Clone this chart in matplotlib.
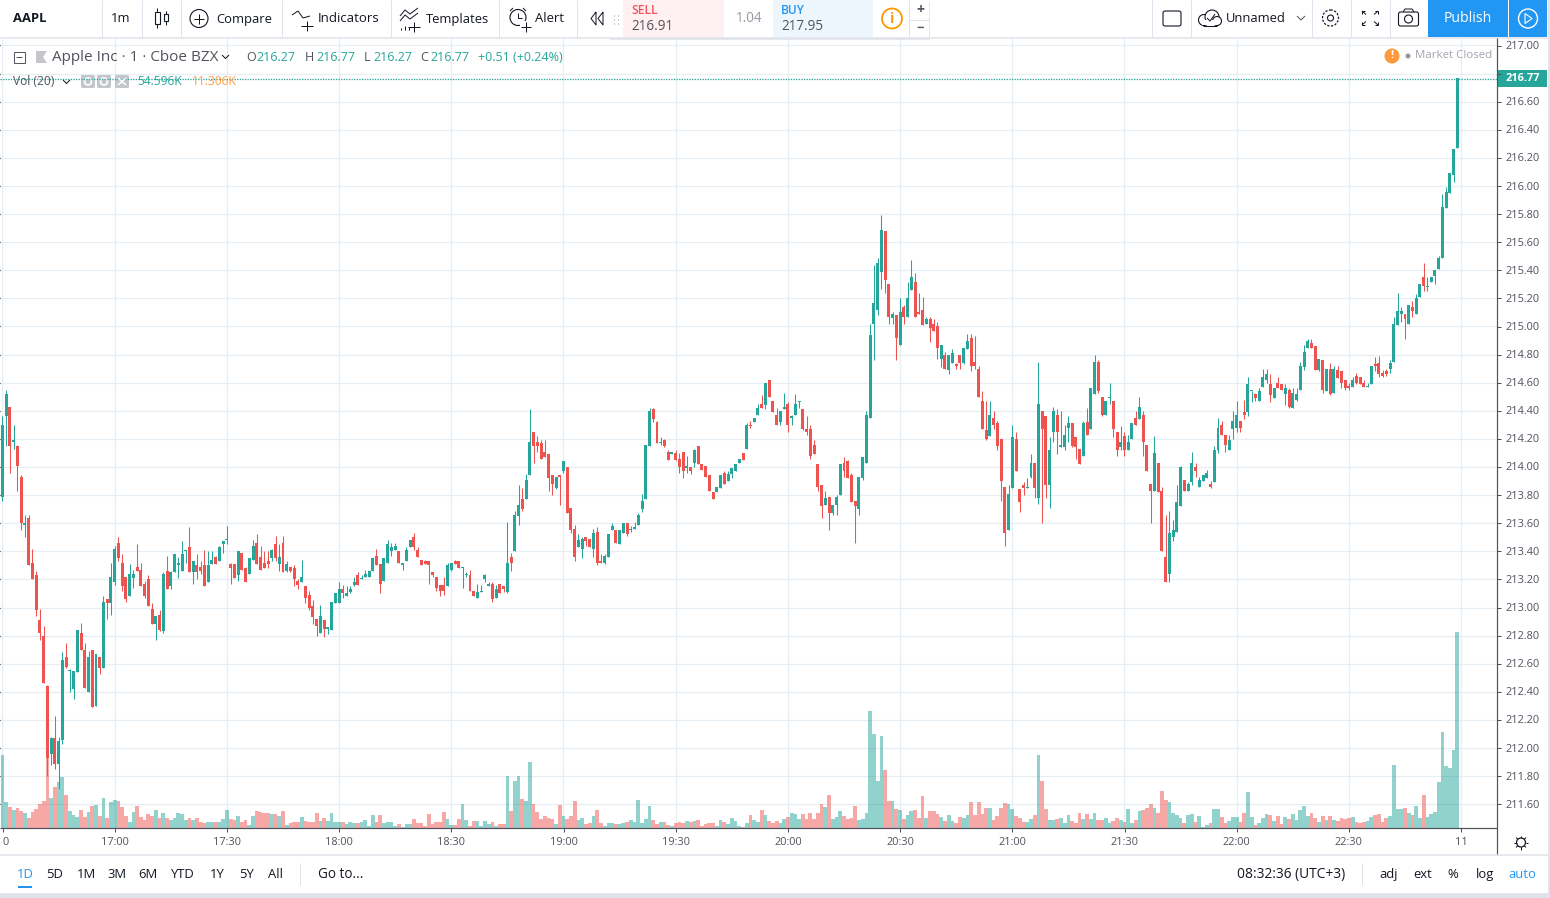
import numpy as np
import matplotlib
matplotlib.use("Agg")
import matplotlib.pyplot as plt
from matplotlib.patches import Rectangle, Circle, FancyBboxPatch

plt.rcParams["font.family"] = ["Open Sans", "DejaVu Sans"]

# =========================
# DATA
# =========================
opens = [
    213.79,214.36,214.43,214.18,214.15,213.93,213.59,213.64,213.32,213.23,
    212.91,212.80,212.44,211.96,212.07,211.89,212.06,212.65,212.55,212.42,
    212.54,212.82,212.70,212.40,212.70,212.30,212.65,212.57,213.06,213.03,
    213.18,213.46,213.32,213.22,213.08,213.21,213.29,213.27,213.17,213.20,
    212.99,212.88,212.95,212.83,213.26,213.15,213.25,213.30,213.26,213.40,
    213.43,213.25,213.30,213.29,213.30,213.18,213.31,213.36,213.33,213.45,
    213.48,213.31,213.31,213.23,213.39,213.28,213.24,213.34,213.46,213.36,
    213.32,213.33,213.35,213.45,213.31,213.46,213.26,213.29,213.28,213.19,
    213.18,213.15,213.09,213.01,212.92,212.82,212.91,212.85,212.84,213.03,
    213.03,213.13,213.08,213.11,213.16,213.23,213.20,213.22,213.22,213.26,
    213.37,213.31,213.19,213.32,213.40,213.41,213.40,213.30,213.33,213.43,
    213.50,213.41,213.34,213.33,213.33,213.25,213.22,213.16,213.16,213.15,
    213.27,213.33,213.33,213.28,213.23,213.23,213.12,213.07,213.11,213.20,
    213.15,213.17,213.07,213.17,213.15,213.11,213.36,213.40,213.65,213.77,
    213.77,213.94,214.25,214.18,214.17,214.11,214.09,213.94,213.85,213.94,
    213.97,214.00,213.71,213.56,213.43,213.42,213.50,213.49,213.42,213.54,
    213.33,213.32,213.36,213.55,213.55,213.45,213.53,213.60,213.55,213.56,
    213.59,213.70,213.77,214.15,214.41,214.32,214.17,214.19,214.11,214.09,
    214.10,214.06,214.11,213.99,214.00,214.03,214.15,214.02,214.01,213.94,
    213.82,213.82,213.85,213.96,213.90,213.95,213.97,214.03,214.10,214.13,
    214.30,214.32,214.37,214.45,214.44,214.62,214.47,214.37,214.32,214.41,
    214.45,214.35,214.37,214.46,214.41,214.27,214.27,214.16,214.02,213.87,
    213.73,213.79,213.67,213.73,213.80,214.03,214.04,213.94,213.76,213.70,
    213.92,214.03,214.35,215.02,215.12,215.39,215.68,215.30,215.06,215.08,
    214.87,215.14,215.07,215.26,215.32,215.10,215.12,215.02,215.05,215.02,
    215.00,214.77,214.80,214.69,214.74,214.73,214.80,214.74,214.84,214.92,
    214.75,214.70,214.47,214.26,214.22,214.35,214.31,214.20,213.86,213.55,
    213.85,214.20,213.84,213.87,213.85,213.93,214.03,213.78,214.40,214.36,
    213.87,214.25,214.37,214.14,214.14,214.28,214.31,214.21,214.13,214.08,
    214.32,214.27,214.52,214.75,214.50,214.37,214.49,214.47,214.25,214.14,
    214.22,214.12,214.20,214.35,214.34,214.37,214.16,213.88,213.83,214.03,
    213.83,213.36,213.24,213.50,213.54,213.72,213.91,213.83,213.89,214.00,
    213.86,213.90,213.92,213.88,213.89,214.12,214.30,214.23,214.12,214.27,
    214.28,214.33,214.39,214.39,214.54,214.52,214.47,214.57,214.62,214.59,
    214.49,214.60,214.59,214.52,214.55,214.42,214.48,214.55,214.71,214.85,
    214.88,214.86,214.69,214.76,214.54,214.70,214.53,214.69,214.68,214.62,
    214.58,214.57,214.65,214.64,214.60,214.57,214.59,214.73,214.74,214.67,
    214.68,214.70,214.75,215.01,215.09,215.09,215.02,215.14,215.09,215.21,
    215.35,215.28,215.32,215.36,215.41,215.49,215.84,215.95,216.08,216.27,
]
closes = [
    214.30,214.52,214.15,214.19,214.01,213.60,213.59,213.30,213.20,212.98,
    212.82,212.46,211.93,212.07,211.89,212.05,212.63,212.58,212.55,212.55,
    212.84,212.70,212.43,212.65,212.29,212.67,212.57,213.04,213.03,213.22,
    213.42,213.35,213.15,213.06,213.24,213.24,213.26,213.15,213.08,213.01,
    212.88,212.94,212.84,213.24,213.13,213.25,213.38,213.32,213.38,213.41,
    213.25,213.33,213.25,213.26,213.15,213.30,213.34,213.31,213.43,213.47,
    213.48,213.28,213.21,213.40,213.27,213.18,213.35,213.44,213.31,213.27,
    213.28,213.31,213.41,213.35,213.36,213.25,213.31,213.26,213.20,213.16,
    213.22,213.07,213.00,212.93,212.87,212.94,212.85,212.86,213.04,213.10,
    213.13,213.10,213.10,213.13,213.18,213.16,213.21,213.24,213.26,213.35,
    213.30,213.17,213.35,213.45,213.43,213.44,213.32,213.32,213.41,213.48,
    213.43,213.36,213.30,213.31,213.30,213.23,213.14,213.12,213.12,213.30,
    213.32,213.31,213.28,213.29,213.24,213.12,213.08,213.11,213.12,213.23,
    213.17,213.06,213.13,213.10,213.13,213.32,213.32,213.66,213.73,213.70,
    213.91,214.18,214.15,214.15,214.06,214.07,213.92,213.88,213.93,213.93,
    214.04,213.67,213.55,213.36,213.48,213.49,213.47,213.43,213.53,213.32,
    213.32,213.37,213.52,213.58,213.46,213.55,213.60,213.52,213.56,213.57,
    213.66,213.76,214.16,214.40,214.34,214.17,214.18,214.15,214.05,214.11,
    214.05,214.00,213.97,214.01,213.97,214.12,214.02,213.98,213.93,213.83,
    213.77,213.86,213.94,213.88,213.95,213.99,214.02,214.06,214.05,214.30,
    214.29,214.35,214.42,214.42,214.60,214.50,214.39,214.30,214.40,214.43,
    214.30,214.36,214.45,214.46,214.27,214.25,214.08,214.09,213.86,213.72,
    213.78,213.67,213.73,213.79,214.02,213.97,213.92,213.75,213.72,213.93,
    214.07,214.37,214.94,215.17,215.45,215.69,215.33,215.07,215.09,214.92,
    215.10,215.07,215.20,215.35,215.07,215.09,215.01,215.05,214.99,214.97,
    214.85,214.87,214.70,214.80,214.81,214.72,214.74,214.85,214.90,214.72,
    214.72,214.50,214.27,214.20,214.37,214.30,214.15,213.90,213.53,213.81,
    214.21,213.97,213.75,213.85,213.86,214.03,213.85,214.45,214.27,213.87,
    214.12,214.40,214.25,214.16,214.23,214.31,214.15,214.14,214.02,214.31,
    214.23,214.56,214.75,214.54,214.37,214.47,214.50,214.27,214.12,214.18,
    214.12,214.18,214.31,214.30,214.43,214.18,213.97,213.83,214.10,213.82,
    213.40,213.18,213.53,213.55,213.75,214.00,213.83,213.88,214.03,213.97,
    213.91,213.94,213.96,213.86,214.12,214.28,214.23,214.16,214.19,214.33,
    214.37,214.28,214.37,214.59,214.54,214.49,214.54,214.64,214.66,214.51,
    214.56,214.56,214.55,214.56,214.43,214.53,214.52,214.72,214.82,214.90,
    214.85,214.69,214.77,214.55,214.70,214.52,214.70,214.63,214.60,214.56,
    214.56,214.62,214.60,214.59,214.57,214.58,214.72,214.72,214.66,214.65,
    214.66,214.74,215.02,215.11,215.11,215.05,215.15,215.11,215.20,215.30,
    215.29,215.29,215.35,215.40,215.49,215.85,215.96,216.09,216.26,216.77,
]
highs = [
    214.36,214.55,214.43,214.30,214.16,213.94,213.66,213.66,213.42,213.26,
    212.99,212.87,212.45,212.08,212.23,212.08,212.68,212.75,212.56,212.55,
    212.84,212.89,212.75,212.69,212.70,212.67,212.65,213.08,213.06,213.32,
    213.44,213.50,213.38,213.22,213.31,213.27,213.45,213.32,213.19,213.23,
    213.03,212.94,212.98,213.25,213.37,213.26,213.38,213.36,213.47,213.41,
    213.57,213.33,213.38,213.33,213.41,213.40,213.40,213.37,213.44,213.47,
    213.58,213.32,213.31,213.40,213.39,213.29,213.35,213.48,213.52,213.44,
    213.40,213.40,213.42,213.51,213.45,213.51,213.33,213.29,213.30,213.20,
    213.34,213.15,213.12,213.05,212.92,213.02,212.91,212.86,213.04,213.10,
    213.18,213.16,213.15,213.15,213.22,213.25,213.23,213.27,213.26,213.36,
    213.42,213.31,213.35,213.48,213.46,213.46,213.40,213.32,213.43,213.48,
    213.53,213.43,213.34,213.34,213.33,213.25,213.22,213.16,213.22,213.32,
    213.32,213.34,213.33,213.29,213.25,213.27,213.12,213.17,213.16,213.24,
    213.18,213.18,213.16,213.17,213.15,213.61,213.39,213.69,213.87,213.85,
    213.95,214.41,214.25,214.22,214.19,214.19,214.09,213.94,213.93,213.94,
    214.04,214.00,213.71,213.59,213.52,213.50,213.50,213.49,213.56,213.57,
    213.38,213.38,213.52,213.60,213.55,213.55,213.60,213.60,213.58,213.61,
    213.67,213.81,214.16,214.42,214.42,214.33,214.21,214.20,214.12,214.11,
    214.12,214.10,214.11,214.08,214.00,214.13,214.15,214.02,214.01,213.94,
    213.82,213.86,213.94,213.97,213.97,213.99,214.02,214.06,214.10,214.31,
    214.33,214.35,214.45,214.51,214.60,214.62,214.47,214.42,214.40,214.53,
    214.46,214.37,214.52,214.47,214.41,214.36,214.30,214.19,214.02,213.87,
    213.83,213.79,213.73,213.80,214.02,214.07,214.05,213.96,213.76,213.93,
    214.07,214.40,215.02,215.44,215.49,215.79,215.68,215.30,215.10,215.08,
    215.20,215.15,215.32,215.47,215.38,215.24,215.21,215.07,215.07,215.05,
    215.03,214.87,214.82,214.80,214.84,214.74,214.80,214.85,214.95,214.95,
    214.93,214.72,214.54,214.47,214.47,214.40,214.33,214.20,213.86,213.87,
    214.30,214.25,213.84,213.89,213.92,214.09,214.03,214.75,214.40,214.36,
    214.21,214.43,214.41,214.40,214.30,214.36,214.31,214.21,214.13,214.33,
    214.42,214.56,214.80,214.76,214.50,214.47,214.60,214.47,214.25,214.29,
    214.25,214.23,214.31,214.40,214.50,214.40,214.16,213.88,214.22,214.03,
    213.86,213.66,213.69,213.62,213.87,214.01,213.91,213.89,214.11,214.03,
    213.93,213.94,213.98,213.90,214.15,214.35,214.33,214.23,214.23,214.40,
    214.47,214.33,214.48,214.64,214.54,214.53,214.56,214.70,214.70,214.66,
    214.56,214.64,214.59,214.59,214.56,214.56,214.56,214.75,214.87,214.91,
    214.91,214.86,214.77,214.76,214.70,214.74,214.72,214.72,214.68,214.62,
    214.60,214.64,214.67,214.64,214.62,214.60,214.72,214.78,214.79,214.69,
    214.70,214.76,215.07,215.24,215.14,215.09,215.15,215.18,215.23,215.30,
    215.45,215.35,215.35,215.40,215.50,215.94,215.99,216.09,216.26,216.77,
]
lows = [
    213.76,214.15,213.96,214.13,213.83,213.55,213.50,213.30,213.20,212.94,
    212.77,212.46,211.80,211.88,211.85,211.71,212.03,212.57,212.40,212.35,
    212.54,212.70,212.43,212.40,212.29,212.30,212.53,212.57,212.92,212.95,
    213.16,213.33,213.12,213.04,213.08,213.14,213.26,213.15,213.07,213.01,
    212.88,212.77,212.83,212.82,213.13,213.13,213.25,213.21,213.26,213.32,
    213.25,213.17,213.20,213.24,213.15,213.18,213.31,213.31,213.33,213.39,
    213.45,213.17,213.21,213.19,213.27,213.18,213.24,213.34,213.31,213.27,
    213.28,213.28,213.33,213.33,213.26,213.25,213.25,213.25,213.15,213.13,
    213.18,213.03,212.98,212.88,212.80,212.82,212.79,212.81,212.84,213.03,
    213.03,213.07,213.08,213.10,213.15,213.16,213.20,213.22,213.22,213.26,
    213.30,213.10,213.19,213.32,213.37,213.41,213.32,213.27,213.33,213.43,
    213.41,213.36,213.30,213.31,213.17,213.22,213.12,213.08,213.09,213.15,
    213.26,213.31,213.28,213.14,213.22,213.12,213.08,213.07,213.11,213.18,
    213.15,213.04,213.07,213.10,213.11,213.10,213.26,213.40,213.59,213.69,
    213.77,213.94,214.03,214.11,214.06,214.07,213.83,213.80,213.84,213.73,
    213.96,213.67,213.53,213.33,213.43,213.35,213.44,213.43,213.36,213.30,
    213.32,213.31,213.36,213.55,213.46,213.45,213.53,213.51,213.54,213.56,
    213.59,213.68,213.77,214.15,214.32,214.17,214.16,214.14,214.05,214.09,
    214.05,213.96,213.92,213.96,213.95,214.00,214.02,213.98,213.93,213.83,
    213.77,213.82,213.85,213.88,213.90,213.92,213.97,214.03,214.05,214.13,
    214.28,214.32,214.37,214.42,214.41,214.50,214.39,214.30,214.30,214.41,
    214.25,214.30,214.37,214.42,214.26,214.23,214.06,214.09,213.83,213.64,
    213.73,213.55,213.66,213.66,213.80,213.93,213.92,213.75,213.46,213.66,
    213.91,214.03,214.35,214.76,215.08,215.27,215.24,215.02,215.02,214.76,
    214.87,215.02,215.07,215.26,215.07,215.09,215.01,215.02,214.89,214.97,
    214.77,214.71,214.70,214.66,214.74,214.70,214.70,214.73,214.84,214.68,
    214.70,214.50,214.27,214.19,214.22,214.27,214.12,213.76,213.44,213.55,
    213.85,213.97,213.68,213.80,213.85,213.92,213.78,213.74,213.60,213.78,
    213.71,214.18,214.09,214.14,214.12,214.18,214.14,214.06,214.02,214.08,
    214.23,214.27,214.52,214.53,214.36,214.37,214.45,214.21,214.08,214.12,
    214.08,214.12,214.20,214.30,214.34,214.08,213.97,213.60,213.83,213.82,
    213.40,213.18,213.18,213.47,213.54,213.72,213.83,213.83,213.87,213.93,
    213.86,213.90,213.92,213.85,213.89,214.10,214.23,214.11,214.12,214.20,
    214.25,214.25,214.34,214.36,214.46,214.47,214.47,214.57,214.60,214.46,
    214.49,214.56,214.55,214.44,214.42,214.42,214.47,214.55,214.69,214.85,
    214.85,214.69,214.68,214.53,214.54,214.51,214.53,214.63,214.56,214.55,
    214.55,214.57,214.59,214.59,214.57,214.57,214.59,214.68,214.64,214.64,
    214.65,214.67,214.75,215.01,215.03,214.91,215.02,215.07,215.09,215.21,
    215.25,215.25,215.32,215.30,215.41,215.49,215.84,215.95,216.03,216.27,
]
# volume in thousands
volumes = [
    20.4,7.3,5.9,5.1,5.7,4.8,4.3,2.9,4.5,5.4,
    6.8,7.6,19.6,8.4,11.5,12.9,14.3,9.3,4.8,3.7,
    3.2,5.1,3.2,4.5,6.2,6.5,3.4,8.4,2.9,7.3,
    7.9,7.6,5.9,3.4,1.8,4.5,6.2,3.2,2.3,4.0,
    3.4,5.1,2.9,4.3,2.9,2.3,2.9,4.3,4.0,2.3,
    2.9,2.3,2.9,1.8,1.5,1.8,1.8,1.8,1.8,2.6,
    5.1,2.6,2.3,3.4,1.7,2.2,0.7,3.3,4.7,4.4,
    4.3,4.1,3.9,3.9,3.3,4.7,0.8,1.4,1.7,1.7,
    3.1,1.9,1.7,1.7,4.2,1.9,2.8,1.9,4.2,1.7,
    1.7,1.7,1.1,1.7,1.4,1.4,1.7,2.2,0.6,3.6,
    1.7,3.6,1.4,1.7,1.7,0.6,1.1,0.3,1.1,1.1,
    2.5,1.4,1.4,0.6,3.9,1.1,1.7,1.7,4.5,2.5,
    0.8,0.8,2.5,6.7,2.2,0.6,1.9,1.9,0.6,1.9,
    1.1,1.7,0.6,1.1,1.1,14.5,4.7,13.1,14.5,8.1,
    7.5,18.4,6.7,4.5,2.5,3.3,2.8,2.5,1.1,6.4,
    3.3,2.5,3.3,7.5,2.2,2.8,1.1,1.4,3.3,5.0,
    1.4,0.6,1.4,1.4,1.1,1.1,1.4,1.7,2.2,1.7,
    7.8,1.4,2.5,6.1,2.2,1.1,1.7,1.7,0.8,0.6,
    1.4,1.7,1.4,1.9,1.7,1.9,2.2,0.6,1.1,1.4,
    1.4,0.6,2.2,1.7,1.1,2.8,1.9,0.6,0.3,1.4,
    3.6,2.2,1.7,5.0,3.6,1.9,1.4,1.9,1.4,2.5,
    3.1,4.2,3.9,2.5,3.9,2.5,4.2,2.5,4.2,6.7,
    5.8,9.2,2.5,3.1,4.7,3.3,2.5,2.8,6.1,2.2,
    2.5,4.2,32.6,26.2,13.1,25.6,16.2,7.5,7.5,5.3,
    5.0,2.5,3.6,4.7,5.0,2.8,8.9,2.8,4.7,4.7,
    3.9,3.1,1.9,3.6,1.9,1.4,3.1,2.8,3.6,7.2,
    3.6,7.2,3.9,5.6,5.6,2.2,3.3,5.6,7.0,6.7,
    5.3,3.3,2.8,1.7,1.7,2.5,3.6,20.3,13.1,5.3,
    2.2,2.2,2.5,2.8,1.4,3.6,1.9,1.4,4.2,2.5,
    3.9,2.5,4.2,2.2,2.2,2.8,1.4,1.9,2.8,2.2,
    1.7,5.3,1.4,2.2,4.7,5.0,5.6,6.7,5.6,4.2,
    10.3,7.8,7.2,4.2,3.6,2.8,1.4,3.6,3.9,1.7,
    3.3,0.3,0.8,1.4,5.3,5.3,3.1,1.4,1.9,3.1,
    3.1,1.7,4.2,10.0,3.1,0.8,1.4,2.8,3.9,3.6,
    1.9,3.3,1.1,3.1,2.5,3.9,2.2,5.0,6.1,3.3,
    4.2,2.8,1.7,3.3,2.2,3.3,2.2,1.9,2.8,2.5,
    2.8,3.1,1.7,1.4,1.7,1.9,3.1,3.6,3.9,1.7,
    2.8,3.3,17.5,5.3,5.3,5.6,4.2,3.6,6.1,2.8,
    9.2,3.1,3.9,4.5,12.8,26.7,17.3,16.7,21.7,54.6,
]
time_ticks = [0, 30, 60, 90, 120, 150, 180, 210, 240, 270, 300, 330, 360, 390]
time_labels = ["0", "17:00", "17:30", "18:00", "18:30", "19:00", "19:30",
               "20:00", "20:30", "21:00", "21:30", "22:00", "22:30", "11"]
price_ticks = [211.6 + 0.2 * k for k in range(28)]
last_price = 216.77

GREEN = "#26a69a"
RED = "#ef5350"
GRID = "#e6edf3"
TEXT = "#50535e"
DARK = "#131722"

# =========================
# FIGURE AND CHART PANE
# =========================
fig = plt.figure(figsize=(15.5, 8.98), dpi=100, facecolor="white")

# pane covers x 0-1497, y 38-828 in image pixels
ax = fig.add_axes([0, (898 - 828) / 898, 1497 / 1550, 790 / 898])
ax.set_xlim(-0.668, 399.6)
ax.set_ylim(211.431, 217.053)
for s in ax.spines.values():
    s.set_visible(False)
ax.tick_params(left=False, right=False, bottom=False, labelleft=False, labelbottom=False)
ax.set_xticks(time_ticks)
ax.set_yticks(price_ticks)
ax.grid(True, color=GRID, lw=0.9)
ax.set_axisbelow(True)

# grid axes at the back, then volume, then candles on top
vax = ax.twinx()
vax.set_ylim(0, 220)
vax.axis("off")
cax = ax.twinx()
cax.set_ylim(ax.get_ylim())
cax.axis("off")

idx = np.arange(len(opens))
o = np.array(opens)
c = np.array(closes)
h = np.array(highs)
l = np.array(lows)
v = np.array(volumes)
colors = [GREEN if ce >= op else RED for op, ce in zip(o, c)]

vax.bar(idx, v, width=1.0, color=colors, alpha=0.5, linewidth=0, zorder=1)

cax.vlines(idx, l, h, colors=colors, lw=0.75, zorder=3)
cax.bar(idx, np.maximum(np.abs(c - o), 0.008), bottom=np.minimum(o, c), width=0.8,
        color=colors, linewidth=0, zorder=4)
cax.set_xlim(ax.get_xlim())
vax.set_xlim(ax.get_xlim())

# =========================
# CHROME OVERLAY IN PIXELS
# =========================
ui = fig.add_axes([0, 0, 1, 1], zorder=10)
ui.set_xlim(0, 1550)
ui.set_ylim(898, 0)
ui.axis("off")
ui.patch.set_visible(False)


def txt(x, y, s, size=13, color=DARK, ha="left", weight="normal"):
    # Open Sans sits a little high with va=center
    ui.text(x, y + 1.5, s, fontsize=size * 0.72, color=color, ha=ha, va="center", fontweight=weight)


def line(xs, ys, color=DARK, lw=1.0, **kw):
    ui.plot(xs, ys, color=color, lw=lw * 0.72, solid_capstyle="butt", **kw)


def box(x0, y0, x1, y1, color, **kw):
    ui.add_patch(Rectangle((x0, y0), x1 - x0, y1 - y0, facecolor=color, linewidth=0, **kw))


SEP = "#e0e3eb"

# top toolbar
box(0, 0, 1550, 37, "white")
line([0, 1550], [37.5, 37.5], SEP, 1.5)
for sx in [101.5, 141.5, 180.5, 282, 390.5, 499, 576.5, 1151.5, 1191, 1312, 1351, 1390]:
    line([sx, sx], [0, 37], SEP)
txt(13, 17.5, "AAPL", 13, DARK, weight="bold")
txt(121, 17.5, "1m", 13, DARK, ha="center")
# candle icon
line([157, 157], [8, 28]); line([166, 166], [11, 25])
ui.add_patch(Rectangle((154.5, 12), 5, 12, facecolor="white", edgecolor=DARK, lw=0.8, zorder=3))
ui.add_patch(Rectangle((164, 14), 4, 7, facecolor="white", edgecolor=DARK, lw=0.8, zorder=3))
# compare
ui.add_patch(Circle((199, 18.5), 9, facecolor="none", edgecolor=DARK, lw=0.8))
line([194, 204], [18.5, 18.5]); line([199, 199], [13.5, 23.5])
txt(216, 17.5, "Compare")
# indicators
line([292, 298, 303, 310], [15, 11, 18, 16])
line([307, 307], [21, 31]); line([301, 313], [26, 26])
txt(318, 17.5, "Indicators", 13.2)
# templates
line([400, 405, 410, 418], [16, 10, 14, 8]); line([400, 405, 410, 418], [21, 15, 19, 13])
line([414, 414], [22, 32]); line([408, 420], [27, 27])
line([401, 401], [28, 30]); line([405, 405], [26, 30]); line([409, 409], [27, 30])
txt(426, 17.5, "Templates")
# alert
ui.add_patch(Circle((518, 17.5), 8, facecolor="none", edgecolor=DARK, lw=0.8))
line([510, 513], [11, 8]); line([523, 526], [8, 11]); line([518, 518, 522], [13, 18, 18])
box(520, 21, 530, 32, "white")
line([526, 526], [22, 32]); line([521, 531], [27, 27])
txt(535, 17.5, "Alert")
line([596, 591, 596, 596], [12, 18.5, 25, 12]); line([603, 598, 603, 603], [12, 18.5, 25, 12])

# trading panel
ui.add_patch(Rectangle((610, 2), 320, 38, facecolor="#d5d7dd", linewidth=0, alpha=0.6))
box(608, 0, 929, 38, "white")
box(623, 0, 724, 38, "#fff0f1")
box(773, 0, 873, 38, "#eef6fd")
for dy in [15, 19, 23]:
    for dx in [613.5, 617.5]:
        box(dx, dy, dx + 1.5, dy + 1.5, "#c8cad0")
txt(631, 9.5, "SELL", 12, "#f7525f", weight="semibold")
txt(631, 25, "216.91", 13.5, TEXT)
txt(749, 17.5, "1.04", 13.5, "#9598a1", ha="center")
txt(781, 9.5, "BUY", 12, "#2196f3", weight="semibold")
txt(781, 25, "217.95", 13.5, TEXT)
ui.add_patch(Circle((892, 18.5), 10, facecolor="white", edgecolor="#ff9800", lw=1.3))
txt(892, 17.5, "i", 14, "#ff9800", ha="center", weight="bold")
line([909, 909], [0, 38], SEP)
line([909, 929], [19.5, 19.5], SEP)
txt(920, 8.5, "+", 14, TEXT, ha="center", weight="bold")
txt(920, 27, "−", 13, TEXT, ha="center", weight="bold")

# right side of toolbar
ui.add_patch(FancyBboxPatch((1163, 11), 18, 15, boxstyle="round,pad=0,rounding_size=2",
                            facecolor="none", edgecolor=DARK, lw=0.8))
ui.add_patch(Circle((1204, 20), 5.5, facecolor="white", edgecolor=DARK, lw=0.8))
ui.add_patch(Circle((1212, 17), 7, facecolor="white", edgecolor=DARK, lw=0.8))
ui.add_patch(Circle((1217, 21), 4.5, facecolor="white", edgecolor=DARK, lw=0.8))
box(1202, 20, 1217, 25, "white", zorder=3)
line([1203, 1217], [25.5, 25.5], DARK, zorder=3)
line([1207, 1210, 1215], [18, 21, 14], DARK, zorder=3)
txt(1226, 17.5, "Unnamed")
line([1297, 1301, 1305], [16, 20, 16], TEXT)
ui.add_patch(Circle((1330.5, 18), 3, facecolor="none", edgecolor=DARK, lw=0.8))
ui.add_patch(Circle((1330.5, 18), 8, facecolor="none", edgecolor=DARK, lw=0.9, linestyle=(0, (1.8, 1.2))))
for sx, sy in [(1, 1), (-1, 1), (1, -1), (-1, -1)]:
    cx, cy = 1370 + sx * 8, 18 + sy * 7
    line([cx, cx - sx * 4], [cy, cy - sy * 3.5])
    line([cx, cx], [cy, cy - sy * 3]); line([cx, cx - sx * 3], [cy, cy])
ui.add_patch(FancyBboxPatch((1398.5, 12), 20, 14, boxstyle="round,pad=0,rounding_size=2",
                            facecolor="none", edgecolor=DARK, lw=0.8))
ui.add_patch(Circle((1408.5, 19), 4, facecolor="none", edgecolor=DARK, lw=0.8))
line([1403, 1405, 1412, 1414], [12, 9, 9, 12])
box(1428, 0, 1508, 37, "#2196f3")
box(1509, 0, 1547, 37, "#2196f3")
txt(1468, 17.5, "Publish", 14, "white", ha="center", weight="medium")
ui.add_patch(Circle((1528, 18.5), 9.5, facecolor="none", edgecolor="white", lw=1.0))
ui.fill([1525, 1525, 1532], [13.5, 23.5, 18.5], facecolor="none", edgecolor="white", lw=0.8)
box(1548, 0, 1550, 898, SEP)

# legend rows
ui.add_patch(Rectangle((13.5, 51.5), 11, 11, facecolor="white", edgecolor=TEXT, lw=0.7))
line([16, 22], [57, 57], TEXT)
ui.fill([36, 47, 43, 47, 36], [51, 51, 57, 63, 63], color="#c4c6cc", lw=0)
txt(52, 56, "Apple Inc · 1 · Cboe BZX", 15.2, TEXT)
line([222, 225.5, 229], [55, 58.5, 55], DARK)
for lx, letter, value, off in [(246, "O", "216.27", 10), (305, "H", "216.77", 11),
                               (364, "L", "216.27", 9), (420, "C", "216.77", 10)]:
    txt(lx, 56, letter, 12.5, TEXT)
    txt(lx + off, 56, value, 12.5, GREEN)
txt(478, 56, "+0.51 (+0.24%)", 12.5, GREEN)

line([0, 1497], [78.5, 78.5], GREEN, 1.3, linestyle=(0, (1, 1)))
txt(13, 80, "Vol (20)", 12, TEXT)
line([63, 66.5, 70], [80, 83.5, 80], DARK)
for bx, mark in [(81, "o"), (97, "g"), (115, "x")]:
    ui.add_patch(FancyBboxPatch((bx, 75), 14, 13, boxstyle="round,pad=0,rounding_size=1.5",
                                facecolor="#c4c6cc", linewidth=0))
    if mark == "x":
        line([bx + 3, bx + 11], [78, 85], "white", 1.5)
        line([bx + 3, bx + 11], [85, 78], "white", 1.5)
    else:
        ui.add_patch(Circle((bx + 7, 81.5), 3.5, facecolor="none", edgecolor="white", lw=1.2))
txt(137, 80, "54.596K", 12, GREEN)
txt(192, 80, "11.306K", 12, "#ff9f43")

# market closed
ui.add_patch(Circle((1392, 56), 7.5, facecolor="#ff9a3c", linewidth=0))
txt(1392, 54.5, "!", 11, "white", ha="center", weight="bold")
ui.add_patch(Circle((1408, 56), 2.5, facecolor="#9598a1", linewidth=0))
txt(1415, 54.5, "Market Closed", 11.5, "#a3a6af")

# axes frame
box(0, 828.5, 1497, 855, "white")
box(1497.5, 38.5, 1548, 855, "white")
line([0, 1497], [828, 828], TEXT, 1.2)
line([1497, 1497], [38, 855], TEXT, 1.2)
line([0, 1550], [855, 855], SEP, 1.5)

# =========================
# TICK LABELS
# =========================
x_to_px = lambda i: 2.5 + 3.74 * i
y_to_px = lambda p: 45.5 + (217 - p) * 140.5

for t, label in zip(time_ticks, time_labels):
    px = x_to_px(t)
    line([px, px], [828, 832], TEXT)
    txt(px + (3 if label == "0" else 0), 841, label, 11, TEXT, ha="center")

for p in price_ticks:
    py = y_to_px(p)
    line([1497, 1501], [py, py], TEXT)
    # the last price tag covers the label next to it
    if abs(p - last_price) > 0.05:
        txt(1506, py - 0.5, f"{p:.2f}", 11, TEXT)

# last price tag
box(1498, 70, 1547, 86.5, GREEN)
txt(1506, 77, f"{last_price:.2f}", 11, "white", weight="bold")

# corner gear
ui.add_patch(Circle((1521, 842.5), 4.5, facecolor="none", edgecolor=DARK, lw=0.9))
for ang in np.arange(0, 360, 45):
    a = np.deg2rad(ang)
    line([1521 + 4.5 * np.cos(a), 1521 + 7 * np.cos(a)],
         [842.5 + 4.5 * np.sin(a), 842.5 + 7 * np.sin(a)], DARK)

# =========================
# BOTTOM BAR
# =========================
box(0, 855.5, 1548, 893, "white")
box(0, 893, 1550, 898, SEP)
for bx, label in [(25, "1D"), (55, "5D"), (86, "1M"), (117, "3M"), (148, "6M"),
                  (183, "YTD"), (217, "1Y"), (246, "5Y"), (276, "All")]:
    txt(bx, 873, label, 13, "#2196f3" if label == "1D" else DARK, ha="center")
box(18, 885.5, 32, 887.5, "#2196f3")
line([300, 300], [863, 885], SEP)
txt(318, 873, "Go to...", 13.5)
txt(1345, 873, "08:32:36 (UTC+3)", 13.8, DARK, ha="right")
line([1362, 1362], [863, 885], SEP)
for bx, label, col in [(1389, "adj", DARK), (1423, "ext", DARK), (1453, "%", DARK),
                       (1485, "log", DARK), (1522, "auto", "#2196f3")]:
    txt(bx, 873, label, 13, col, ha="center")

fig.savefig("out.png", dpi=100)
